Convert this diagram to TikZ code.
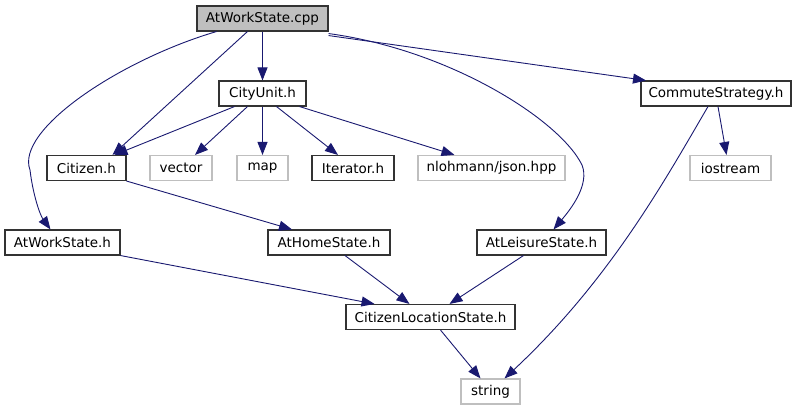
\documentclass[tikz,border=0pt]{standalone}
\usepackage{fontspec}
\setmainfont{DejaVu Sans}
\usetikzlibrary{arrows.meta}
\definecolor{edgeblue}{HTML}{191970}
\definecolor{grayborder}{HTML}{BFBFBF}
\definecolor{rootfill}{HTML}{BFBFBF}
\begin{document}
\begin{tikzpicture}[x=1pt,y=-1pt,
  box/.style={draw=black!80,line width=1.1pt,inner sep=0pt,minimum height=25pt,font=\fontsize{13.5}{16}\selectfont,anchor=center},
  sysbox/.style={box,draw=grayborder},
  rootbox/.style={box,fill=rootfill},
  dep/.style={draw=edgeblue,line width=0.9pt,-{Triangle[length=13pt,width=10pt]}}]
\useasboundingbox (0,0) rectangle (797,411);
\node[rootbox,minimum width=131pt] (cpp) at (262.5,18.5) {AtWorkState.cpp};
\node[box,minimum width=87pt] (city) at (262.5,93.5) {CityUnit.h};
\node[box,minimum width=150pt] (comm) at (716,93.5) {CommuteStrategy.h};
\node[box,minimum width=79pt] (cit) at (86.5,168) {Citizen.h};
\node[sysbox,minimum width=62pt] (vec) at (181,168) {vector};
\node[sysbox,minimum width=51pt] (map) at (262.5,168) {map};
\node[box,minimum width=82pt] (iter) at (353,168) {Iterator.h};
\node[sysbox,minimum width=147pt] (json) at (491.5,168) {nlohmann/json.hpp};
\node[sysbox,minimum width=81pt] (ios) at (730.5,168) {iostream};
\node[box,minimum width=115pt] (work) at (62.5,242.5) {AtWorkState.h};
\node[box,minimum width=122pt] (home) at (329,242.5) {AtHomeState.h};
\node[box,minimum width=129pt] (leis) at (541.5,242.5) {AtLeisureState.h};
\node[box,minimum width=169pt] (cls) at (430.5,317) {CitizenLocationState.h};
\node[sysbox,minimum width=59pt] (str) at (490.5,391.5) {string};
% edges
\draw[dep] (cpp) -- (city);
\draw[dep] ([xshift=51pt]cpp.south west) -- ([xshift=26pt]cit.north);
\draw[dep] ([xshift=20pt]cpp.south west) .. controls (120,60) and (15,130) .. (30,170) .. controls (33,195) and (40,215) .. ([xshift=-12pt]work.north);
\draw[dep] ([yshift=-4pt]cpp.south east) -- ([xshift=-70pt]comm.north);
\draw[dep] ([yshift=-2pt]cpp.south east) .. controls (450,50) and (560,120) .. (582,165) .. controls (590,185) and (570,210) .. ([xshift=12pt]leis.north);
\draw[dep] ([xshift=-28pt]city.south) -- ([xshift=28pt]cit.north);
\draw[dep] ([xshift=-15pt]city.south) -- ([xshift=14pt]vec.north);
\draw[dep] (city) -- (map);
\draw[dep] ([xshift=14pt]city.south) -- ([xshift=-15pt]iter.north);
\draw[dep] ([xshift=37pt]city.south) -- ([xshift=-37pt]json.north);
\draw[dep] ([xshift=2pt]comm.south) -- ([xshift=-4pt]ios.north);
\draw[dep] ([xshift=-8pt]comm.south) .. controls (665,180) and (610,280) .. ([xshift=14pt]str.north);
\draw[dep] (cit.south east) -- ([xshift=-37pt]home.north);
\draw[dep] (work.south east) -- ([xshift=-56pt]cls.north);
\draw[dep] ([xshift=16pt]home.south) -- ([xshift=-21pt]cls.north);
\draw[dep] ([xshift=-18pt]leis.south) -- ([xshift=19pt]cls.north);
\draw[dep] ([xshift=10pt]cls.south) -- ([xshift=-10pt]str.north);
\end{tikzpicture}
\end{document}
